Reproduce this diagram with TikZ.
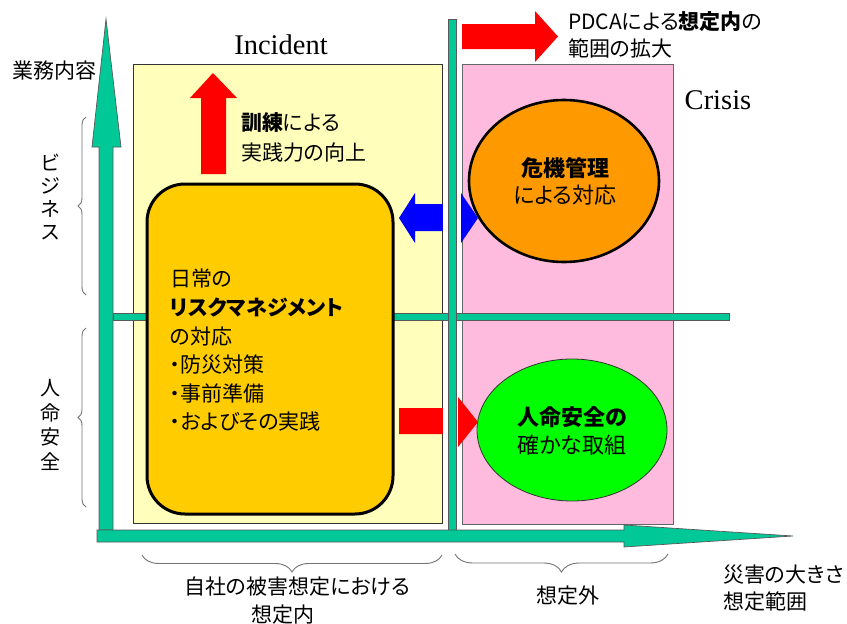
\documentclass[tikz,border=0pt]{standalone}
\usepackage{fontspec}
\newfontfamily\jp{Noto Sans CJK JP}[RawFeature=+palt]
\newfontfamily\ser{Liberation Serif}
\usetikzlibrary{decorations.pathreplacing,shapes.geometric}
\definecolor{axisgreen}{HTML}{00C896}
\definecolor{incfill}{HTML}{FFFFBB}
\definecolor{crisfill}{HTML}{FFBBDD}
\definecolor{rrfill}{HTML}{FFCC00}
\definecolor{orfill}{HTML}{FF9900}
\definecolor{grfill}{HTML}{00FF00}
\begin{document}
\begin{tikzpicture}[x=1pt,y=-1pt,
  jtext/.style={font=\jp\fontsize{21}{27}\selectfont, inner sep=0pt, text=black},
  sertext/.style={font=\ser\fontsize{28.5}{30}\selectfont, inner sep=0pt},
  bar/.style={fill=axisgreen, draw=black!65, line width=0.7pt},
  region/.style={draw=black!80, line width=0.8pt, inner sep=0pt},
  bracestyle/.style={draw=black!55, line width=0.9pt, decorate},
  blockred/.style={fill=red, draw=none},
  blockblue/.style={fill=blue, draw=none}]
\useasboundingbox (0,0) rectangle (847,624);
\fill[white] (0,0) rectangle (847,624);

% regions
\node[region, fill=incfill, minimum width=309pt, minimum height=459pt] (incbox) at (287.5,293.5) {};
\node[region, draw=black!60, fill=crisfill, minimum width=211pt, minimum height=460pt] (crisbox) at (567.5,294) {};

% ellipses
\node[ellipse, draw=black, line width=2.6pt, fill=orfill, minimum width=190pt, minimum height=162pt, inner sep=0pt] (crisis) at (564,181) {};
\node[ellipse, draw=black!80, line width=0.8pt, fill=grfill, minimum width=190pt, minimum height=142pt, inner sep=0pt] (life) at (572,430) {};

% block arrows
\draw[blockred] (201,174) -- (201,98) -- (190,98) -- (213,73) -- (237,98) -- (226,98) -- (226,174) -- cycle;
\draw[blockred] (462,24) -- (535,24) -- (535,11) -- (558,36.5) -- (535,62) -- (535,49) -- (462,49) -- cycle;
\draw[blockblue] (399,218) -- (415,193) -- (415,204) -- (461,204) -- (461,193) -- (478,218) -- (461,243) -- (461,231) -- (415,231) -- (415,243) -- cycle;
\draw[blockred] (399,408) -- (458,408) -- (458,397) -- (478,422) -- (458,447) -- (458,434) -- (399,434) -- cycle;

% white strip and bars
\fill[white] (443,190) rectangle (461.4,250);
\fill[white] (443,395) rectangle (457.5,450);
\draw[bar] (113,313) rectangle (729,320);
\draw[bar] (448.5,19) rectangle (456,530);

% axes
\draw[bar] (99,530) -- (99,147) -- (92,147) -- (106,19) -- (121,147) -- (113,147) -- (113,530) -- cycle;
\draw[bar] (97,530) -- (624,530) -- (624,525) -- (793,536) -- (624,547) -- (624,542) -- (97,542) -- cycle;

% rounded rect
\node[draw=black, line width=3pt, fill=rrfill, rounded corners=38pt, minimum width=246pt, minimum height=330pt] (daily) at (270,349) {};

% texts
\node[jtext, anchor=west, align=left, font=\jp\fontsize{21}{28.6}\selectfont] (dailytext) at (170,350.5)
  {日常の\\\textbf{リスクマネジメント}\\の対応\\・防災対策\\・事前準備\\・およびその実践};
\node[jtext, align=center, font=\jp\fontsize{22}{27}\selectfont] (crisistext) at (565,181.5) {\textbf{危機管理}\\による対応};
\node[jtext, align=center, font=\jp\fontsize{22}{28}\selectfont] (lifetext) at (572,431) {\textbf{人命安全の}\\確かな取組};
\node[jtext, anchor=west, align=left, font=\jp\fontsize{21}{30}\selectfont] (train) at (241,137) {\textbf{訓練}による\\実践力の向上};
\node[jtext, anchor=west, align=left] (pdca) at (568,34.5) {PDCAによる\textbf{想定内}の\\範囲の拡大};
\node[sertext] (inc) at (281,45) {Incident};
\node[sertext] (cri) at (718,100) {Crisis};
\node[jtext] (gyomu) at (54.5,71) {業務内容};
\node[jtext, align=center, font=\jp\fontsize{20}{23}\selectfont] (biz) at (50,197.5) {ビ\\ジ\\ネ\\ス};
\node[jtext, align=center, font=\jp\fontsize{20}{24.7}\selectfont] (jinmei) at (50,425) {人\\命\\安\\全};
\node[jtext] (naiA) at (297,587) {自社の被害想定における};
\node[jtext] (naiB) at (283,615) {想定内};
\node[jtext] (gai) at (568,596) {想定外};
\node[jtext, anchor=west, align=left] (scale) at (723,588.5) {災害の大きさ\\想定範囲};

% braces
\coordinate (bzA) at (86,295); \coordinate (bzB) at (86,117);
\coordinate (jmA) at (86,507); \coordinate (jmB) at (86,328);
\coordinate (naA) at (442,555); \coordinate (naB) at (142,555);
\coordinate (gaA) at (668,554); \coordinate (gaB) at (455,554);
\draw[bracestyle, decoration={brace, amplitude=8pt}] (bzA) -- (bzB);
\draw[bracestyle, decoration={brace, amplitude=8pt}] (jmA) -- (jmB);
\draw[bracestyle, decoration={brace, amplitude=17pt}] (naA) -- (naB);
\draw[bracestyle, decoration={brace, amplitude=18pt}] (gaA) -- (gaB);
\end{tikzpicture}
\end{document}
